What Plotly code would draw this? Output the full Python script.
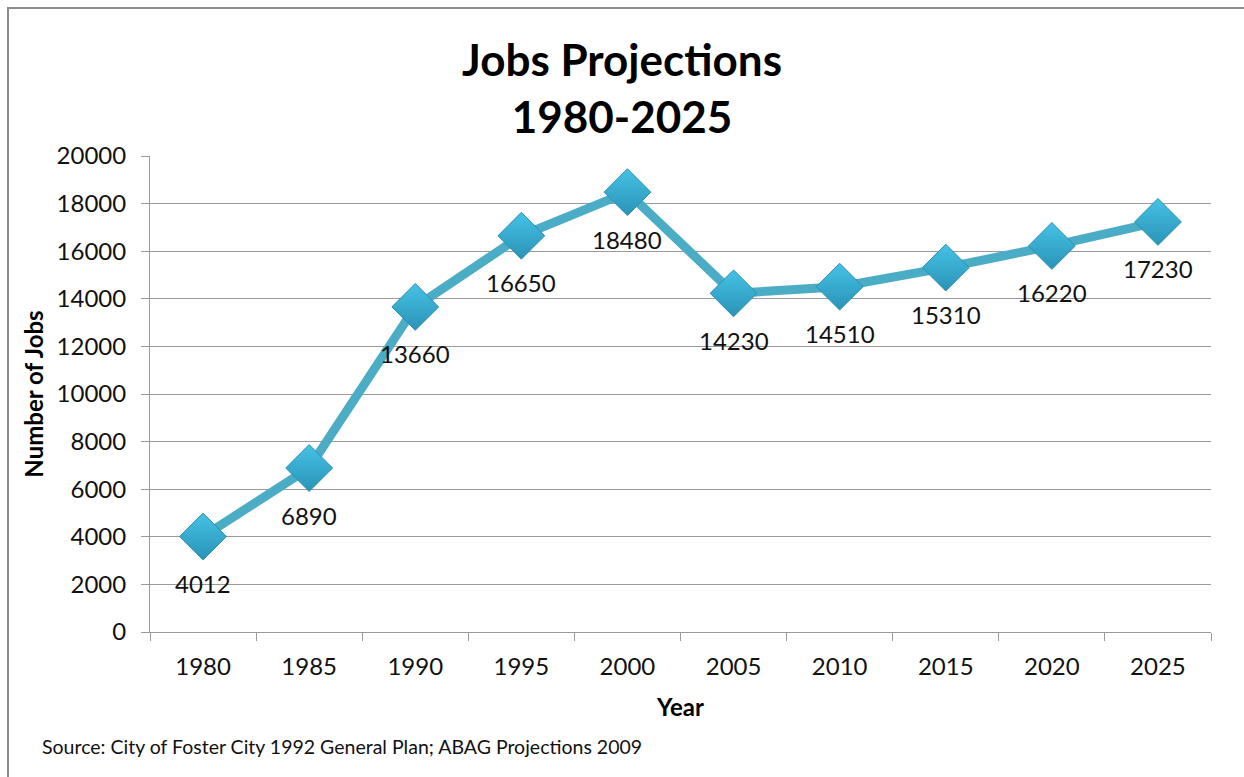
import plotly.graph_objects as go

years = ["1980", "1985", "1990", "1995", "2000", "2005", "2010", "2015", "2020", "2025"]
jobs = [4012, 6890, 13660, 16650, 18480, 14230, 14510, 15310, 16220, 17230]
y_ticks = list(range(0, 20001, 2000))

FONT = "Lato, 'Open Sans', sans-serif"
L, R, T, B = 150, 33, 156, 145
W, H = 1244, 777
pw, ph = W - L - R, H - T - B

fig = go.Figure()
fig.add_trace(go.Scatter(
    x=years, y=jobs, mode="lines+markers",
    line=dict(color="#4BACC6", width=9),
    marker=dict(symbol="diamond", size=36, color="#45C2E6",
                gradient=dict(type="vertical", color="#2A93B6"),
                line=dict(color="#2A8FB0", width=1)),
    showlegend=False, cliponaxis=False,
))

for i, yv in enumerate(jobs):
    fig.add_annotation(x=i, y=yv, text=str(yv), showarrow=False,
                       yshift=-47, font=dict(family=FONT, size=24, color="#111"))

def px_x(p):
    return (p - L) / pw

def px_y(p):
    return (H - B - p) / ph

fig.add_shape(type="rect", xref="paper", yref="paper",
              x0=px_x(8), y0=px_y(790), x1=px_x(1260), y1=px_y(8),
              line=dict(color="#8C8C8C", width=2), layer="below")

fig.update_layout(
    width=W, height=H,
    margin=dict(l=L, r=R, t=T, b=B),
    paper_bgcolor="white", plot_bgcolor="white",
    font=dict(family=FONT, color="#111"),
    title=dict(text="<b>Jobs Projections<br>1980-2025</b>", x=0.5, xanchor="center",
               yref="container", y=1 - 76 / H, yanchor="middle",
               font=dict(family=FONT, size=44, color="#000")),
    xaxis=dict(
        type="category", tickson="boundaries", ticks="outside", ticklen=8,
        tickcolor="#9A9A9A", showline=True, linecolor="#9A9A9A", linewidth=1,
        showgrid=False, tickfont=dict(size=24, family=FONT, color="#111"),
        ticklabelstandoff=13,
        title=dict(text="<b>Year</b>", font=dict(size=24, family=FONT, color="#000"), standoff=20),
        range=[-0.5, 9.5],
    ),
    yaxis=dict(
        range=[0, 20000], tickvals=y_ticks, tickformat="d", ticks="outside", ticklen=8,
        tickcolor="#9A9A9A", showline=True, linecolor="#9A9A9A", linewidth=1,
        showgrid=True, gridcolor="#9A9A9A", gridwidth=1, zeroline=False,
        tickfont=dict(size=24, family=FONT, color="#111"),
        ticklabelstandoff=10,
        title=dict(text="<b>Number of Jobs</b>", font=dict(size=24, family=FONT, color="#000"), standoff=6),
    ),
)

fig.add_annotation(xref="paper", yref="paper", x=px_x(40), y=px_y(746),
                   xanchor="left", yanchor="middle", showarrow=False,
                   text="Source: City of Foster City 1992 General Plan; ABAG Projections 2009",
                   font=dict(family=FONT, size=19.5, color="#111"))

fig.write_html("out.html")
